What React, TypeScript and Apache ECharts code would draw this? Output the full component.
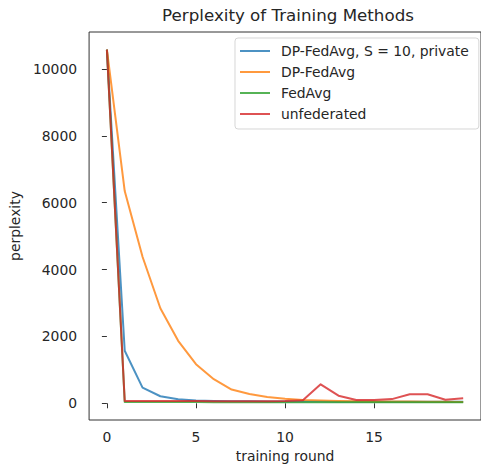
import React, { useEffect, useRef } from "react";
import * as echarts from "echarts";

const rounds = [0, 1, 2, 3, 4, 5, 6, 7, 8, 9, 10, 11, 12, 13, 14, 15, 16, 17, 18, 19, 20];
const dpPrivate = [10580, 1570, 467, 210, 120, 85, 70, 62, 58, 55, 52, 50, 50, 48, 48, 47, 46, 46, 45, 45, 45];
const dpFedAvg = [10580, 6350, 4385, 2842, 1870, 1170, 720, 410, 275, 190, 135, 100, 80, 70, 60, 55, 50, 50, 45, 45, 40];
const fedAvg = [10580, 40, 38, 36, 35, 35, 34, 34, 33, 33, 32, 32, 31, 31, 30, 30, 30, 29, 29, 28, 28];
const unfederated = [10580, 70, 68, 66, 65, 65, 64, 64, 63, 63, 70, 90, 568, 228, 100, 100, 125, 268, 268, 105, 150];
const seriesNames = ["DP-FedAvg, S = 10, private", "DP-FedAvg", "FedAvg", "unfederated"];
const xTicks = [0, 5, 10, 15];
const yTicks = [0, 2000, 4000, 6000, 8000, 10000];

const colors = [
  "rgba(31,119,180,0.8)",
  "rgba(255,127,14,0.8)",
  "rgba(44,160,44,0.8)",
  "rgba(214,39,40,0.8)",
];

const FONT = "DejaVu Sans";
const TXT = "#262626";
const FS = 13.9;

export default function App() {
  const ref = useRef<HTMLDivElement>(null);
  useEffect(() => {
    if (!ref.current) return;
    const chart = echarts.init(ref.current, null, { renderer: "svg" });
    const all = [dpPrivate, dpFedAvg, fedAvg, unfederated];
    chart.setOption({
      animation: false,
      backgroundColor: "#fff",
      title: {
        text: "Perplexity of Training Methods",
        left: 288,
        top: 6,
        padding: 0,
        textAlign: "center",
        textStyle: { fontFamily: FONT, fontSize: 16.7, fontWeight: "normal", color: TXT },
      },
      legend: {
        orient: "vertical",
        left: 235,
        top: 38,
        padding: [5, 10, 7, 5],
        itemWidth: 30,
        itemHeight: 16,
        itemGap: 5,
        icon: "path://M0,0h30v2h-30z",
        symbolKeepAspect: true,
        backgroundColor: "rgba(255,255,255,0.8)",
        borderColor: "rgba(204,204,204,0.8)",
        borderWidth: 1,
        borderRadius: 3,
        textStyle: { fontFamily: FONT, fontSize: FS, color: TXT, lineHeight: 16, padding: [0, 0, 0, 6] },
        data: seriesNames,
      },
      grid: {
        left: 89,
        top: 32,
        right: -6,
        bottom: 51,
        show: true,
        borderColor: "#333",
        borderWidth: 1,
        backgroundColor: "transparent",
      },
      xAxis: {
        type: "value",
        min: -1,
        max: 21,
        name: "training round",
        nameLocation: "middle",
        nameGap: 29,
        nameTextStyle: { fontFamily: FONT, fontSize: FS, color: TXT },
        axisLine: { show: false },
        splitLine: { show: false },
        axisTick: { show: true, length: 5, lineStyle: { color: "#333", width: 1 }, customValues: xTicks },
        axisLabel: {
          fontFamily: FONT,
          fontSize: FS,
          color: TXT,
          margin: 10,
          customValues: xTicks,
          formatter: (v: number) => String(v),
        },
      },
      yAxis: {
        type: "value",
        min: -500,
        max: 11107,
        name: "perplexity",
        nameLocation: "middle",
        nameGap: 60,
        nameTextStyle: { fontFamily: FONT, fontSize: FS, color: TXT },
        axisLine: { show: false },
        splitLine: { show: false },
        axisTick: { show: true, length: 5, lineStyle: { color: "#333", width: 1 }, customValues: yTicks },
        axisLabel: {
          fontFamily: FONT,
          fontSize: FS,
          color: TXT,
          margin: 12,
          customValues: yTicks,
          formatter: (v: number) => String(v),
        },
      },
      series: all.map((vals, k) => ({
        name: seriesNames[k],
        type: "line",
        data: rounds.map((r, i) => [r, vals[i]]),
        showSymbol: false,
        symbol: "none",
        color: colors[k],
        lineStyle: { width: 2, color: colors[k], join: "round" },
        itemStyle: { color: colors[k] },
        emphasis: { disabled: true },
      })),
    });
    return () => chart.dispose();
  }, []);
  return (
    <div
      ref={ref}
      style={{ position: "fixed", left: 0, top: 0, width: 481, height: 471, overflow: "hidden" }}
    />
  );
}
